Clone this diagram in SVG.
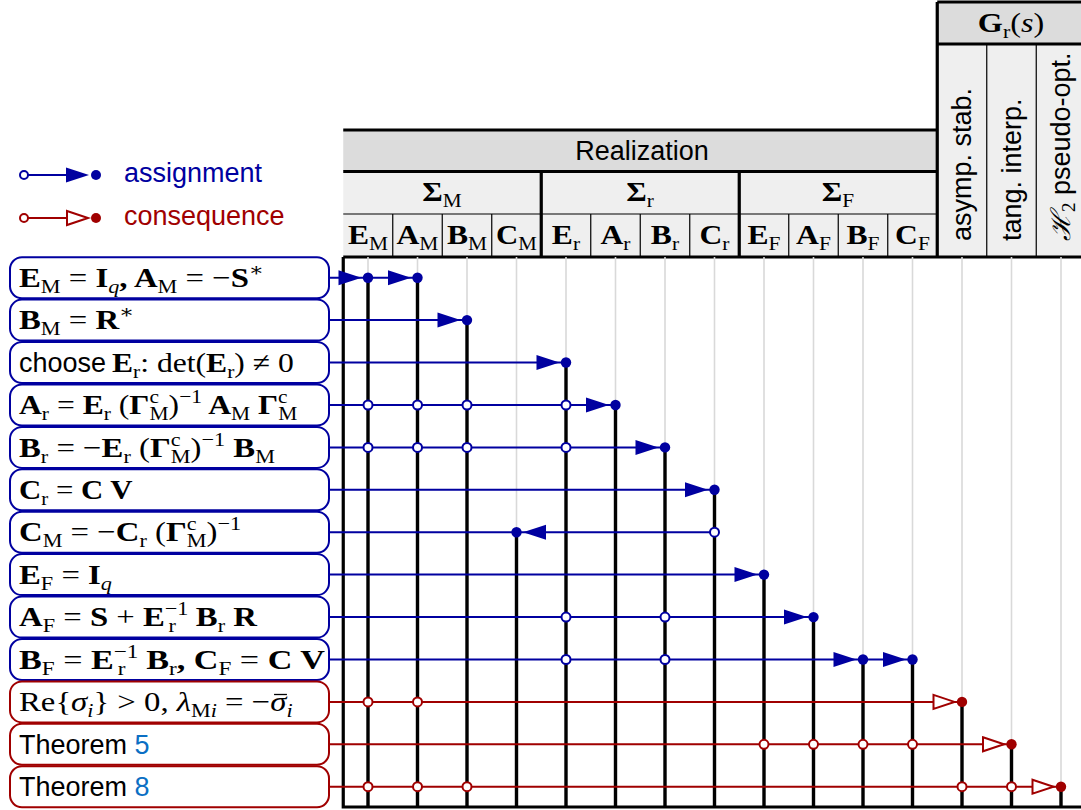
<svg xmlns="http://www.w3.org/2000/svg" width="1081" height="810" viewBox="0 0 1081 810">
<style>
.m{font-family:"Liberation Serif","DejaVu Serif",serif;font-size:28px;fill:#000}
.b{font-weight:bold}
.s{font-size:19px}
.it{font-style:italic}
.sans{font-family:"Liberation Sans",Arial,sans-serif;font-size:27px;fill:#000}
.thick{stroke:#000;stroke-width:3.2;fill:none}
.thin{stroke:#000;stroke-width:1.2;fill:none}
.grid{stroke:#d9d9d9;stroke-width:1.6}
.vl{stroke:#000;stroke-width:3.4}
.bl{stroke:#0000a0;stroke-width:2;fill:none}
.rl{stroke:#a00000;stroke-width:2;fill:none}
.bbox{fill:#fff;stroke:#0000a0;stroke-width:2}
.rbox{fill:#fff;stroke:#a00000;stroke-width:2}
.bo{fill:#fff;stroke:#0000a0;stroke-width:2}
.ro{fill:#fff;stroke:#a00000;stroke-width:2}
.bd{fill:#0000a0}
.rd{fill:#a00000}
.lnk{fill:#0b6fc4}
</style>
<defs>
<path id="fa" d="M-23,-7.5 L0,0 L-23,7.5 Z" fill="#0000a0"/>
<path id="ha" d="M-21,-7 L0,0 L-21,7 Z" fill="#fff" stroke="#a00000" stroke-width="2"/>
</defs>

<!-- legend -->
<g id="legend">
<line x1="24" y1="175" x2="70" y2="175" class="bl"/>
<circle cx="24" cy="175" r="4" class="bo"/>
<use href="#fa" x="89" y="175"/>
<circle cx="96" cy="175" r="5" class="bd"/>
<text x="124" y="182" class="sans" style="fill:#0000a0">assignment</text>
<line x1="24" y1="218" x2="70" y2="218" class="rl"/>
<circle cx="24" cy="218" r="4" class="ro"/>
<use href="#ha" x="88" y="218"/>
<circle cx="96" cy="218" r="5" class="rd"/>
<text x="124" y="225" class="sans" style="fill:#a00000">consequence</text>
</g>

<!-- header -->
<g id="header">
<rect x="343.25" y="130" width="594" height="41.5" fill="#dcdcdc"/>
<rect x="343.25" y="171.5" width="594" height="85.5" fill="#efefef"/>
<rect x="937.25" y="2" width="150" height="42" fill="#dcdcdc"/>
<rect x="937.25" y="44" width="150" height="213" fill="#efefef"/>
<path class="thin" d="M343.25,214H937.25 M392.75,214V257 M442.25,214V257 M491.75,214V257 M590.75,214V257 M640.25,214V257 M689.75,214V257 M788.75,214V257 M838.25,214V257 M887.75,214V257 M986.75,44V257 M1036.25,44V257"/>
<path class="thick" d="M343.25,130H937.25 M343.25,171.5H937.25 M343.25,257H1085 M541.25,171.5V257 M739.25,171.5V257 M937.25,2V257 M937.25,2H1085 M937.25,44H1085"/>
<text x="642" y="160" class="sans" text-anchor="middle">Realization</text>
<g transform="translate(442 0) scale(1.12 1) translate(-442 0)"><text x="442" y="201" class="m" text-anchor="middle"><tspan class="b">Σ</tspan><tspan class="s" dy="6">M</tspan></text></g>
<g transform="translate(640 0) scale(1.12 1) translate(-640 0)"><text x="640" y="201" class="m" text-anchor="middle"><tspan class="b">Σ</tspan><tspan class="s" dy="6">r</tspan></text></g>
<g transform="translate(838 0) scale(1.12 1) translate(-838 0)"><text x="838" y="201" class="m" text-anchor="middle"><tspan class="b">Σ</tspan><tspan class="s" dy="6">F</tspan></text></g>
<g transform="translate(368 0) scale(1.13 1) translate(-368 0)"><text x="368" y="244" class="m" text-anchor="middle"><tspan class="b">E</tspan><tspan class="s" dy="6">M</tspan></text></g>
<g transform="translate(417.5 0) scale(1.13 1) translate(-417.5 0)"><text x="417.5" y="244" class="m" text-anchor="middle"><tspan class="b">A</tspan><tspan class="s" dy="6">M</tspan></text></g>
<g transform="translate(467 0) scale(1.13 1) translate(-467 0)"><text x="467" y="244" class="m" text-anchor="middle"><tspan class="b">B</tspan><tspan class="s" dy="6">M</tspan></text></g>
<g transform="translate(516.5 0) scale(1.1 1) translate(-516.5 0)"><text x="516.5" y="244" class="m" text-anchor="middle"><tspan class="b">C</tspan><tspan class="s" dy="6">M</tspan></text></g>
<g transform="translate(566 0) scale(1.13 1) translate(-566 0)"><text x="566" y="244" class="m" text-anchor="middle"><tspan class="b">E</tspan><tspan class="s" dy="6">r</tspan></text></g>
<g transform="translate(615.5 0) scale(1.13 1) translate(-615.5 0)"><text x="615.5" y="244" class="m" text-anchor="middle"><tspan class="b">A</tspan><tspan class="s" dy="6">r</tspan></text></g>
<g transform="translate(665 0) scale(1.13 1) translate(-665 0)"><text x="665" y="244" class="m" text-anchor="middle"><tspan class="b">B</tspan><tspan class="s" dy="6">r</tspan></text></g>
<g transform="translate(714.5 0) scale(1.13 1) translate(-714.5 0)"><text x="714.5" y="244" class="m" text-anchor="middle"><tspan class="b">C</tspan><tspan class="s" dy="6">r</tspan></text></g>
<g transform="translate(764 0) scale(1.13 1) translate(-764 0)"><text x="764" y="244" class="m" text-anchor="middle"><tspan class="b">E</tspan><tspan class="s" dy="6">F</tspan></text></g>
<g transform="translate(813.5 0) scale(1.13 1) translate(-813.5 0)"><text x="813.5" y="244" class="m" text-anchor="middle"><tspan class="b">A</tspan><tspan class="s" dy="6">F</tspan></text></g>
<g transform="translate(863 0) scale(1.13 1) translate(-863 0)"><text x="863" y="244" class="m" text-anchor="middle"><tspan class="b">B</tspan><tspan class="s" dy="6">F</tspan></text></g>
<g transform="translate(912.5 0) scale(1.13 1) translate(-912.5 0)"><text x="912.5" y="244" class="m" text-anchor="middle"><tspan class="b">C</tspan><tspan class="s" dy="6">F</tspan></text></g>
<g transform="translate(1011 0) scale(1.15 1) translate(-1011 0)"><text x="1011" y="32" class="m" text-anchor="middle"><tspan class="b">G</tspan><tspan class="s" dy="6">r</tspan><tspan dy="-6">(</tspan><tspan class="it">s</tspan><tspan>)</tspan></text></g>
<text x="971" y="241" class="sans" transform="rotate(-90 971 241)">asymp. stab.</text>
<text x="1020.5" y="241" class="sans" transform="rotate(-90 1020.5 241)">tang. interp.</text>
<text x="1069.5" y="241" class="sans" transform="rotate(-90 1069.5 241)"><tspan style="font-family:'DejaVu Serif',serif;font-style:italic">ℋ</tspan><tspan class="s" dy="5" style="font-family:'Liberation Serif',serif">2</tspan><tspan dy="-5"> pseudo-opt.</tspan></text>
</g>

<!-- grid -->
<g id="grid">
<path class="grid" d="M368,257V807 M417.5,257V807 M467,257V807 M516.5,257V807 M566,257V807 M615.5,257V807 M665,257V807 M714.5,257V807 M764,257V807 M813.5,257V807 M863,257V807 M912.5,257V807 M962,257V807 M1011.5,257V807 M1061,257V807"/>
<path class="vl" d="M368,277.7V807 M417.5,277.7V807 M467,320.1V807 M566,362.5V807 M615.5,405V807 M665,447.4V807 M714.5,489.8V807 M516.5,532.2V807 M764,574.6V807 M813.5,617.1V807 M863,659.5V807 M912.5,659.5V807 M962,701.9V807 M1011.5,744.3V807 M1061,786.7V807"/>
<path class="thick" d="M343.25,257V808.6 M343.25,807H1085"/>
</g>

<!-- nodes -->
<g id="n1"><rect x="10" y="257.2" width="319" height="41" rx="12" class="bbox"/>
<g transform="matrix(1.17 0 0 1 -3.23 0)"><text x="19" y="287" class="m"><tspan class="b">E</tspan><tspan class="s" dy="6">M</tspan><tspan dy="-6"> = </tspan><tspan class="b">I</tspan><tspan class="s it" dy="6">q</tspan><tspan dy="-6" class="b">, A</tspan><tspan class="s" dy="6">M</tspan><tspan dy="-6"> = −</tspan><tspan class="b">S</tspan><tspan class="s" dy="-11">∗</tspan></text></g></g>
<g id="n2"><rect x="10" y="299.6" width="319" height="41" rx="12" class="bbox"/>
<g transform="matrix(1.17 0 0 1 -3.23 0)"><text x="19" y="329.4" class="m"><tspan class="b">B</tspan><tspan class="s" dy="6">M</tspan><tspan dy="-6"> = </tspan><tspan class="b">R</tspan><tspan class="s" dy="-11">∗</tspan></text></g></g>
<g id="n3"><rect x="10" y="342" width="319" height="41" rx="12" class="bbox"/>
<text x="19" y="371.8" class="sans">choose</text>
<g transform="matrix(1.13 0 0 1 -14.56 0)"><text x="112" y="371.8" class="m"><tspan class="b">E</tspan><tspan class="s" dy="6">r</tspan><tspan dy="-6">: det(</tspan><tspan class="b">E</tspan><tspan class="s" dy="6">r</tspan><tspan dy="-6">) ≠ 0</tspan></text></g></g>
<g id="n4"><rect x="10" y="384.5" width="319" height="41" rx="12" class="bbox"/>
<g transform="matrix(1.13 0 0 1 -2.47 0)"><text x="19" y="414.3" class="m"><tspan class="b">A</tspan><tspan class="s" dy="6">r</tspan><tspan dy="-6"> = </tspan><tspan class="b">E</tspan><tspan class="s" dy="6">r</tspan><tspan dy="-6"> (</tspan><tspan class="b">Γ</tspan><tspan class="s" dy="-11">c</tspan><tspan class="s" dx="-8.4" dy="17">M</tspan><tspan dy="-6">)</tspan><tspan class="s" dy="-11">−1</tspan><tspan class="b" dy="11"> A</tspan><tspan class="s" dy="6">M</tspan><tspan class="b" dy="-6"> Γ</tspan><tspan class="s" dy="-11">c</tspan><tspan class="s" dx="-8.4" dy="17">M</tspan></text></g></g>
<g id="n5"><rect x="10" y="426.9" width="319" height="41" rx="12" class="bbox"/>
<g transform="matrix(1.17 0 0 1 -3.23 0)"><text x="19" y="456.7" class="m"><tspan class="b">B</tspan><tspan class="s" dy="6">r</tspan><tspan dy="-6"> = −</tspan><tspan class="b">E</tspan><tspan class="s" dy="6">r</tspan><tspan dy="-6"> (</tspan><tspan class="b">Γ</tspan><tspan class="s" dy="-11">c</tspan><tspan class="s" dx="-8.4" dy="17">M</tspan><tspan dy="-6">)</tspan><tspan class="s" dy="-11">−1</tspan><tspan class="b" dy="11"> B</tspan><tspan class="s" dy="6">M</tspan></text></g></g>
<g id="n6"><rect x="10" y="469.3" width="319" height="41" rx="12" class="bbox"/>
<g transform="matrix(1.1 0 0 1 -1.9 0)"><text x="19" y="499.1" class="m"><tspan class="b">C</tspan><tspan class="s" dy="6">r</tspan><tspan dy="-6"> = </tspan><tspan class="b">C V</tspan></text></g></g>
<g id="n7"><rect x="10" y="511.7" width="319" height="41" rx="12" class="bbox"/>
<g transform="matrix(1.17 0 0 1 -3.23 0)"><text x="19" y="541.5" class="m"><tspan class="b">C</tspan><tspan class="s" dy="6">M</tspan><tspan dy="-6"> = −</tspan><tspan class="b">C</tspan><tspan class="s" dy="6">r</tspan><tspan dy="-6"> (</tspan><tspan class="b">Γ</tspan><tspan class="s" dy="-11">c</tspan><tspan class="s" dx="-8.4" dy="17">M</tspan><tspan dy="-6">)</tspan><tspan class="s" dy="-11">−1</tspan></text></g></g>
<g id="n8"><rect x="10" y="554.1" width="319" height="41" rx="12" class="bbox"/>
<g transform="matrix(1.17 0 0 1 -3.23 0)"><text x="19" y="583.9" class="m"><tspan class="b">E</tspan><tspan class="s" dy="6">F</tspan><tspan dy="-6"> = </tspan><tspan class="b">I</tspan><tspan class="s it" dy="6">q</tspan></text></g></g>
<g id="n9"><rect x="10" y="596.6" width="319" height="41" rx="12" class="bbox"/>
<g transform="matrix(1.17 0 0 1 -3.23 0)"><text x="19" y="626.4" class="m"><tspan class="b">A</tspan><tspan class="s" dy="6">F</tspan><tspan dy="-6"> = </tspan><tspan class="b">S</tspan><tspan> + </tspan><tspan class="b">E</tspan><tspan class="s" dy="-11">−1</tspan><tspan class="s" dx="-17" dy="17">r</tspan><tspan class="b" dx="10" dy="-6"> B</tspan><tspan class="s" dy="6">r</tspan><tspan class="b" dy="-6"> R</tspan></text></g></g>
<g id="n10"><rect x="10" y="639" width="319" height="41" rx="12" class="bbox"/>
<g transform="matrix(1.22 0 0 1 -4.18 0)"><text x="19" y="668.8" class="m"><tspan class="b">B</tspan><tspan class="s" dy="6">F</tspan><tspan dy="-6"> = </tspan><tspan class="b">E</tspan><tspan class="s" dy="-11">−1</tspan><tspan class="s" dx="-17" dy="17">r</tspan><tspan class="b" dx="10" dy="-6"> B</tspan><tspan class="s" dy="6">r</tspan><tspan class="b" dy="-6">, C</tspan><tspan class="s" dy="6">F</tspan><tspan dy="-6"> = </tspan><tspan class="b">C V</tspan></text></g></g>
<g id="n11"><rect x="10" y="681.4" width="319" height="41" rx="12" class="rbox"/>
<g transform="matrix(1.17 0 0 1 -3.23 0)"><text x="19" y="711.2" class="m"><tspan>Re{</tspan><tspan class="it">σ</tspan><tspan class="s it" dy="6">i</tspan><tspan dy="-6">} &gt; 0, </tspan><tspan class="it">λ</tspan><tspan class="s" dy="6">M</tspan><tspan class="s it">i</tspan><tspan dy="-6"> = −</tspan><tspan class="it">σ</tspan><tspan class="s it" dy="6">i</tspan></text>
<line x1="237" y1="694.5" x2="248" y2="694.5" stroke="#000" stroke-width="1.3"/></g></g>
<g id="n12"><rect x="10" y="723.8" width="319" height="41" rx="12" class="rbox"/>
<text x="19" y="754" class="sans">Theorem <tspan class="lnk">5</tspan></text></g>
<g id="n13"><rect x="10" y="766.2" width="319" height="41" rx="12" class="rbox"/>
<text x="19" y="796.4" class="sans">Theorem <tspan class="lnk">8</tspan></text></g>

<!-- connectors -->
<g id="connectors">
<path class="bl" d="M329,277.7H417.5 M329,320.1H467 M329,362.5H566 M329,405H615.5 M329,447.4H665 M329,489.8H714.5 M329,532.2H714.5 M329,574.6H764 M329,617.1H813.5 M329,659.5H912.5"/>
<path class="rl" d="M329,701.9H962 M329,744.3H1011.5 M329,786.7H1061"/>
<g>
<circle cx="368" cy="405" r="4.5" class="bo"/><circle cx="417.5" cy="405" r="4.5" class="bo"/><circle cx="467" cy="405" r="4.5" class="bo"/><circle cx="566" cy="405" r="4.5" class="bo"/>
<circle cx="368" cy="447.4" r="4.5" class="bo"/><circle cx="417.5" cy="447.4" r="4.5" class="bo"/><circle cx="467" cy="447.4" r="4.5" class="bo"/><circle cx="566" cy="447.4" r="4.5" class="bo"/>
<circle cx="714.5" cy="532.2" r="4.5" class="bo"/>
<circle cx="566" cy="617.1" r="4.5" class="bo"/><circle cx="665" cy="617.1" r="4.5" class="bo"/>
<circle cx="566" cy="659.5" r="4.5" class="bo"/><circle cx="665" cy="659.5" r="4.5" class="bo"/>
<circle cx="368" cy="701.9" r="4.5" class="ro"/><circle cx="417.5" cy="701.9" r="4.5" class="ro"/>
<circle cx="764" cy="744.3" r="4.5" class="ro"/><circle cx="813.5" cy="744.3" r="4.5" class="ro"/><circle cx="863" cy="744.3" r="4.5" class="ro"/><circle cx="912.5" cy="744.3" r="4.5" class="ro"/>
<circle cx="368" cy="786.7" r="4.5" class="ro"/><circle cx="417.5" cy="786.7" r="4.5" class="ro"/><circle cx="467" cy="786.7" r="4.5" class="ro"/><circle cx="962" cy="786.7" r="4.5" class="ro"/><circle cx="1011.5" cy="786.7" r="4.5" class="ro"/>
</g>
<g>
<use href="#fa" x="361.5" y="277.7"/><use href="#fa" x="411" y="277.7"/>
<use href="#fa" x="460.5" y="320.1"/>
<use href="#fa" x="559.5" y="362.5"/>
<use href="#fa" x="609" y="405"/>
<use href="#fa" x="658.5" y="447.4"/>
<use href="#fa" x="708" y="489.8"/>
<use href="#fa" transform="translate(523 532.2) scale(-1 1)"/>
<use href="#fa" x="757.5" y="574.6"/>
<use href="#fa" x="807" y="617.1"/>
<use href="#fa" x="856.5" y="659.5"/><use href="#fa" x="906" y="659.5"/>
<use href="#ha" x="954.5" y="701.9"/>
<use href="#ha" x="1004" y="744.3"/>
<use href="#ha" x="1053.5" y="786.7"/>
</g>
<g>
<circle cx="368" cy="277.7" r="5.2" class="bd"/><circle cx="417.5" cy="277.7" r="5.2" class="bd"/>
<circle cx="467" cy="320.1" r="5.2" class="bd"/>
<circle cx="566" cy="362.5" r="5.2" class="bd"/>
<circle cx="615.5" cy="405" r="5.2" class="bd"/>
<circle cx="665" cy="447.4" r="5.2" class="bd"/>
<circle cx="714.5" cy="489.8" r="5.2" class="bd"/>
<circle cx="516.5" cy="532.2" r="5.2" class="bd"/>
<circle cx="764" cy="574.6" r="5.2" class="bd"/>
<circle cx="813.5" cy="617.1" r="5.2" class="bd"/>
<circle cx="863" cy="659.5" r="5.2" class="bd"/><circle cx="912.5" cy="659.5" r="5.2" class="bd"/>
<circle cx="962" cy="701.9" r="5.2" class="rd"/>
<circle cx="1011.5" cy="744.3" r="5.2" class="rd"/>
<circle cx="1061" cy="786.7" r="5.2" class="rd"/>
</g>
</g>
</svg>
